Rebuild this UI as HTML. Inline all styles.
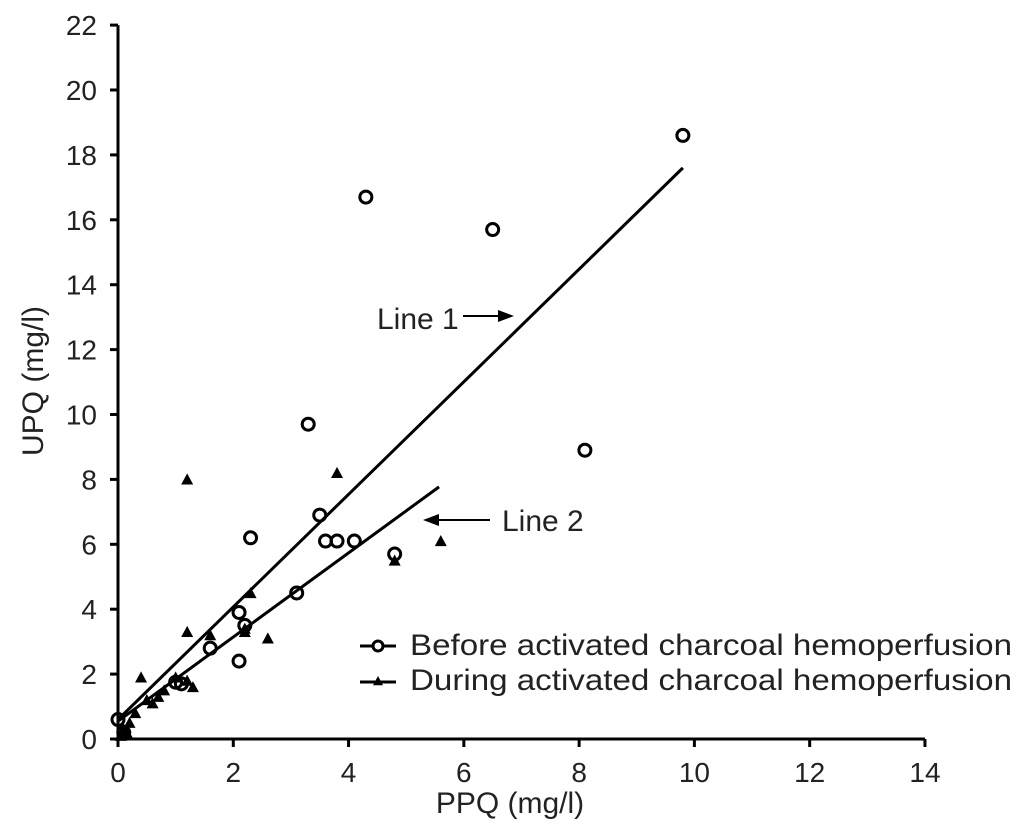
<!DOCTYPE html>
<html><head><meta charset="utf-8"><style>
body{margin:0;background:#fff}
svg{display:block;font-family:"Liberation Sans",Arial,sans-serif}
</style></head><body>
<svg id="chart" width="1025" height="840">
<g id="axes"></g><g id="marks"></g>
</svg>
<script>
const xTicks=[0,2,4,6,8,10,12,14];
const yTicks=[0,2,4,6,8,10,12,14,16,18,20,22];
const beforeX=[9.8,4.3,6.5,3.3,8.1,3.5,2.3,3.6,3.8,4.1,4.8,3.1,2.1,2.2,1.6,2.1,1.1,1.0,0.0,0.1];
const beforeY=[18.6,16.7,15.7,9.7,8.9,6.9,6.2,6.1,6.1,6.1,5.7,4.5,3.9,3.5,2.8,2.4,1.7,1.75,0.6,0.2];
const duringX=[1.2,3.8,5.6,4.8,2.3,1.2,2.2,2.6,0.4,1.2,1.3,0.8,0.7,0.6,0.5,0.3,0.2,0.1,0.05,0.15,1.0,1.6,2.2];
const duringY=[8.0,8.2,6.1,5.5,4.5,3.3,3.4,3.1,1.9,1.8,1.6,1.5,1.3,1.1,1.2,0.8,0.5,0.3,0.1,0.2,1.9,3.2,3.3];
const line1=[[0,0.6],[9.8,17.6]];
const line2=[[0,0.55],[5.57,7.77]];
const NS="http://www.w3.org/2000/svg";
const X=v=>118+v*57.64, Y=v=>739-v*32.45;
const axes=document.getElementById('axes'), marks=document.getElementById('marks');
function mk(t,a,p){const e=document.createElementNS(NS,t);for(const k in a)e.setAttribute(k,a[k]);p.appendChild(e);return e;}
let e;
e=mk('line',{x1:X(0),y1:Y(0),x2:X(14),y2:Y(0),stroke:'#000','stroke-width':3},axes);


e=mk('line',{x1:X(0),y1:Y(0),x2:X(0),y2:Y(22),stroke:'#000','stroke-width':3},axes);


xTicks.forEach(v=>{
 mk('line',{x1:X(v),y1:Y(0),x2:X(v),y2:Y(0)+8,stroke:'#000','stroke-width':3},axes);
 e=mk('text',{x:X(v),y:782,'text-anchor':'middle','font-size':28,fill:'#222'},axes);e.textContent=v;
 
 
});
yTicks.forEach(v=>{
 mk('line',{x1:X(0)-8,y1:Y(v),x2:X(0),y2:Y(v),stroke:'#000','stroke-width':3},axes);
 e=mk('text',{x:97,y:Y(v)+10,'text-anchor':'end','font-size':28,fill:'#222'},axes);e.textContent=v;
 
 
});
e=mk('text',{x:510,y:813,'text-anchor':'middle','font-size':30,fill:'#222'},axes);e.textContent='PPQ (mg/l)';


e=mk('text',{x:0,y:0,'text-anchor':'middle','font-size':30,fill:'#222',transform:'translate(43,381) rotate(-90)'},axes);e.textContent='UPQ (mg/l)';


[line1,line2].forEach((l,i)=>{
 e=mk('line',{x1:X(l[0][0]),y1:Y(l[0][1]),x2:X(l[1][0]),y2:Y(l[1][1]),stroke:'#000','stroke-width':3},marks);
 
 
});
function tri(x,y,p,s){s=s||6;return mk('polygon',{points:`${x},${y-s} ${x-s},${y+s*0.85} ${x+s},${y+s*0.85}`,fill:'#000'},p);}
duringX.forEach((v,i)=>{
 e=tri(X(v),Y(duringY[i]),marks);
 
 
});
beforeX.forEach((v,i)=>{
 e=mk('circle',{cx:X(v),cy:Y(beforeY[i]),r:6,fill:'none',stroke:'#000','stroke-width':3},marks);
 
 
});
e=mk('text',{x:377,y:329,'font-size':30,fill:'#222'},marks);e.textContent='Line 1';


mk('line',{x1:463,y1:316,x2:500,y2:316,stroke:'#000','stroke-width':2},marks);
mk('polygon',{points:'514,316 498,310 498,322',fill:'#000'},marks);
e=mk('text',{x:502,y:531,'font-size':30,fill:'#222'},marks);e.textContent='Line 2';


mk('line',{x1:438,y1:520,x2:490,y2:520,stroke:'#000','stroke-width':2},marks);
mk('polygon',{points:'423,520 439,514 439,526',fill:'#000'},marks);
const lg=mk('g',{},marks);


mk('line',{x1:360,y1:646,x2:396,y2:646,stroke:'#000','stroke-width':3},lg);
mk('circle',{cx:378,cy:646,r:5,fill:'#fff',stroke:'#000','stroke-width':3},lg);
e=mk('text',{x:410,y:655,'font-size':30,fill:'#222',textLength:602,lengthAdjust:'spacingAndGlyphs'},lg);e.textContent='Before activated charcoal hemoperfusion';


mk('line',{x1:360,y1:682,x2:396,y2:682,stroke:'#000','stroke-width':3},lg);
tri(378,681,lg,5);
e=mk('text',{x:410,y:690,'font-size':30,fill:'#222',textLength:602,lengthAdjust:'spacingAndGlyphs'},lg);e.textContent='During activated charcoal hemoperfusion';


</script>
</body></html>
